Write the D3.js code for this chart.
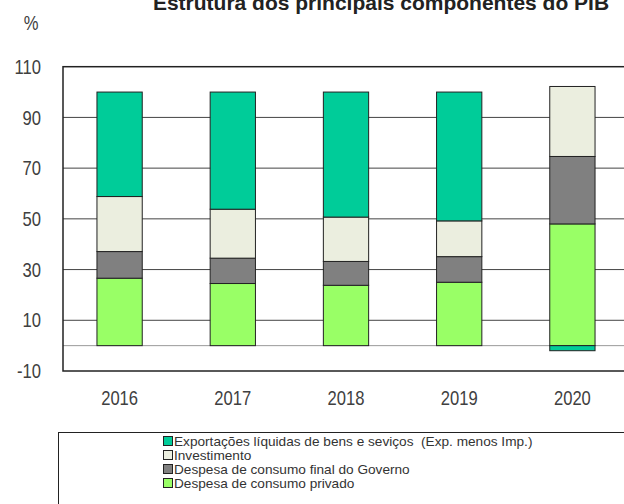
<!DOCTYPE html>
<html>
<head>
<meta charset="utf-8">
<script src="https://cdn.jsdelivr.net/npm/d3@7"></script>
<style>
    body { margin: 0; background: #fff; }
    text { font-family: "Liberation Sans", Arial, sans-serif; }
</style>
</head>
<body>
<div id="chart"></div>
<script>
var YEARS = ["2016", "2017", "2018", "2019", "2020"];
var CONSUMO_PRIVADO = [26.6, 24.5, 23.8, 25.0, 48.0];
var CONSUMO_GOVERNO = [10.5, 10.0, 9.4, 10.1, 26.6];
var INVESTIMENTO = [21.7, 19.3, 17.5, 14.1, 27.6];
var EXPORTACOES_LIQ = [41.2, 46.2, 49.3, 50.8, -2.0];
var Y_TICKS = [-10, 10, 30, 50, 70, 90, 110];

var SERIES = [
    {key: "privado", name: "Despesa de consumo privado", values: CONSUMO_PRIVADO, color: "#99ff66"},
    {key: "governo", name: "Despesa de consumo final do Governo", values: CONSUMO_GOVERNO, color: "#808080"},
    {key: "invest", name: "Investimento", values: INVESTIMENTO, color: "#ebeedf"},
    {key: "export", name: "Exportações líquidas de bens e seviços  (Exp. menos Imp.)", values: EXPORTACOES_LIQ, color: "#00cc99"}
];

/* narrow look: the reference uses Arial Narrow, squeeze regular sans */
var NARROW = 0.83;

function init() {
    var svg = d3.select("#chart").append("svg").attr("width", 624).attr("height", 504);
    var plot = {left: 63, top: 66.7, right: 629, bottom: 371};

    var x = d3.scaleBand().domain(YEARS).range([plot.left, plot.right])
        .paddingInner(0.6).paddingOuter(0.3);
    var y = d3.scaleLinear().domain([-10, 110]).range([plot.bottom, plot.top]);

    /* rows for the stack */
    var rows = YEARS.map(function (yr, i) {
        var r = {year: yr};
        SERIES.forEach(function (s) { r[s.key] = s.values[i]; });
        return r;
    });
    var stacked = d3.stack()
        .keys(SERIES.map(function (s) { return s.key; }))
        .offset(d3.stackOffsetDiverging)(rows);

    /* title */
    svg.append("text")
        .attr("x", 381).attr("y", 10)
        .attr("text-anchor", "middle")
        .attr("font-weight", "bold").attr("font-size", 21)
        .attr("fill", "#222")
        .text("Estrutura dos principais componentes do PIB");

    svg.append("text")
        .attr("transform", "translate(31,30) scale(" + NARROW + ",1)")
        .attr("text-anchor", "middle")
        .attr("font-size", 20).attr("fill", "#404040").text("%");

    /* gridlines */
    svg.append("g").selectAll("line")
        .data(Y_TICKS.filter(function (t) { return t > -10 && t < 110; }))
        .enter().append("line")
        .attr("x1", plot.left).attr("x2", plot.right)
        .attr("y1", function (d) { return y(d); })
        .attr("y2", function (d) { return y(d); })
        .attr("stroke", "#444").attr("stroke-width", 1);

    svg.append("line")
        .attr("x1", plot.left).attr("x2", plot.right)
        .attr("y1", y(0)).attr("y2", y(0))
        .attr("stroke", "#999").attr("stroke-width", 1);

    /* bars */
    var layers = svg.append("g").selectAll("g")
        .data(stacked).enter().append("g")
        .attr("fill", function (d, i) { return SERIES[i].color; });

    layers.selectAll("rect")
        .data(function (d) { return d; })
        .enter().append("rect")
        .attr("x", function (d) { return x(d.data.year); })
        .attr("width", x.bandwidth())
        .attr("y", function (d) { return y(Math.max(d[0], d[1])); })
        .attr("height", function (d) { return Math.abs(y(d[0]) - y(d[1])); })
        .attr("stroke", "#222").attr("stroke-width", 1);

    /* plot frame */
    svg.append("rect")
        .attr("x", plot.left).attr("y", plot.top)
        .attr("width", plot.right - plot.left).attr("height", plot.bottom - plot.top)
        .attr("fill", "none").attr("stroke", "#222").attr("stroke-width", 1.5);

    /* y labels */
    svg.append("g").selectAll("text")
        .data(Y_TICKS).enter().append("text")
        .attr("transform", function (d) { return "translate(41," + y(d) + ") scale(" + NARROW + ",1)"; })
        .attr("dy", "0.36em").attr("text-anchor", "end")
        .attr("font-size", 20).attr("fill", "#404040")
        .text(function (d) { return d; });

    /* x labels */
    svg.append("g").selectAll("text")
        .data(YEARS).enter().append("text")
        .attr("transform", function (d) {
            return "translate(" + (x(d) + x.bandwidth() / 2) + ",405) scale(" + NARROW + ",1)";
        })
        .attr("text-anchor", "middle")
        .attr("font-size", 20).attr("fill", "#404040")
        .text(function (d) { return d; });

    /* legend */
    svg.append("rect")
        .attr("x", 58.5).attr("y", 432.5).attr("width", 600).attr("height", 100)
        .attr("fill", "none").attr("stroke", "#222").attr("stroke-width", 1);

    var legendItems = SERIES.slice().reverse();
    var lg = svg.append("g").selectAll("g")
        .data(legendItems).enter().append("g")
        .attr("transform", function (d, i) { return "translate(163," + (441 + i * 14) + ")"; });

    lg.append("rect")
        .attr("x", 0.5).attr("y", -4.5).attr("width", 9).attr("height", 9)
        .attr("fill", function (d) { return d.color; })
        .attr("stroke", "#222").attr("stroke-width", 1);

    lg.append("text")
        .attr("transform", "translate(11,0) scale(1.05,1)")
        .attr("dy", "0.35em")
        .attr("font-size", 13).attr("fill", "#333")
        .style("white-space", "pre")
        .text(function (d) { return d.name; });
}

init();
</script>
</body>
</html>
